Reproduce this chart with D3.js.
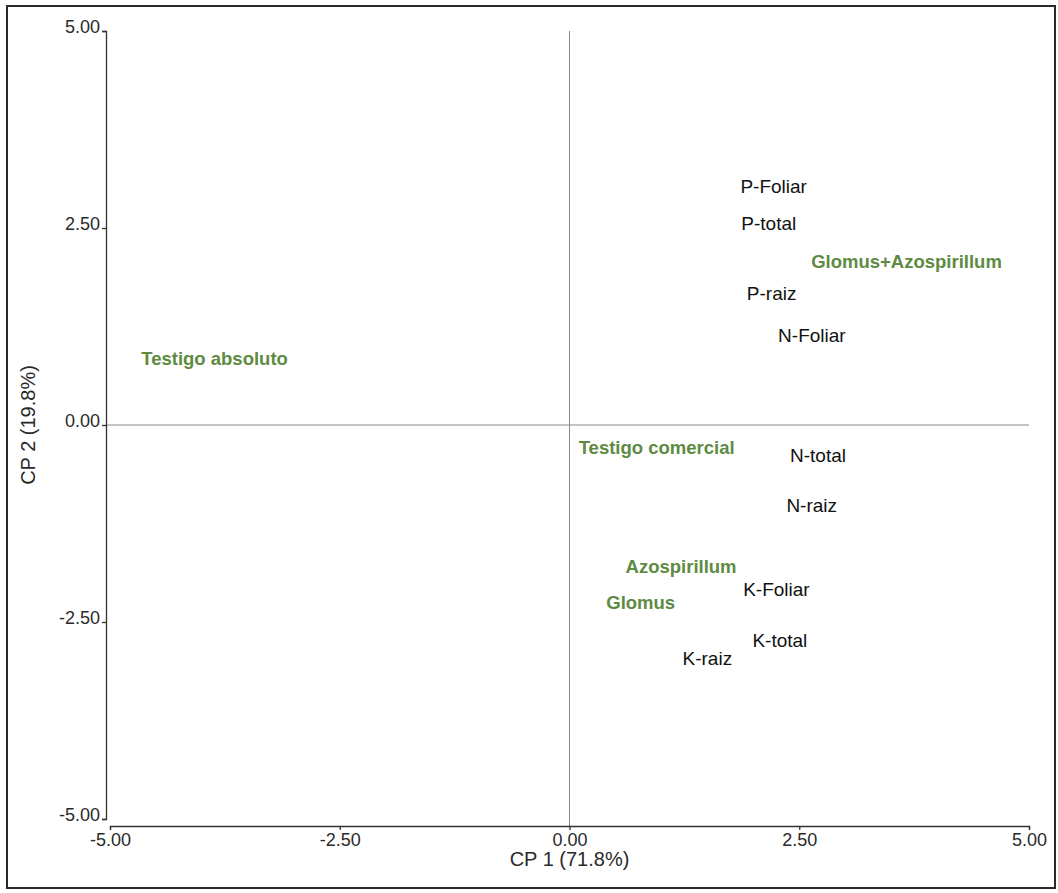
<!DOCTYPE html>
<html>
<head>
<meta charset="utf-8">
<script src="https://cdn.jsdelivr.net/npm/d3@7/dist/d3.min.js"></script>
<style>
  html, body { margin: 0; padding: 0; background: #fff; }
  svg { display: block; font-family: "Liberation Sans", Arial, Helvetica, sans-serif; }
</style>
</head>
<body>
<svg id="chart" width="1058" height="893"></svg>
<script>
// Biplot: PCA of nutrient variables and inoculation treatments
const variableNames = ["P-Foliar", "P-total", "P-raiz", "N-Foliar", "N-total", "N-raiz", "K-Foliar", "K-total", "K-raiz"];
const variableCP1   = [1.86, 1.87, 1.93, 2.27, 2.40, 2.36, 1.89, 1.99, 1.23];
const variableCP2   = [3.03, 2.56, 1.67, 1.14, -0.38, -1.02, -2.08, -2.73, -2.96];

const treatmentNames = ["Glomus+Azospirillum", "Testigo absoluto", "Testigo comercial", "Azospirillum", "Glomus"];
const treatmentCP1   = [2.63, -4.66, 0.10, 0.61, 0.40];
const treatmentCP2   = [2.07, 0.84, -0.28, -1.79, -2.25];

const tickValues = [-5, -2.5, 0, 2.5, 5];
const xTitle = "CP 1 (71.8%)";
const yTitle = "CP 2 (19.8%)";

const svg = d3.select("#chart");
const W = 1058, H = 893;

// outer frame
svg.append("rect")
  .attr("x", 7).attr("y", 6).attr("width", W - 10).attr("height", H - 11)
  .attr("fill", "#fff").attr("stroke", "#2a2a2a").attr("stroke-width", 2);

const x = d3.scaleLinear().domain([-5, 5]).range([110, 1029]);
const y = d3.scaleLinear().domain([-5, 5]).range([819, 31]);
// plain hyphen-minus for negative ticks
const fmt = d3.formatLocale({ decimal: ".", thousands: ",", grouping: [3], currency: ["", ""], minus: "-" }).format(".2f");

// zero reference lines
svg.append("line")
  .attr("x1", x(0)).attr("x2", x(0)).attr("y1", y(5)).attr("y2", 826)
  .attr("stroke", "#8a8a8a").attr("stroke-width", 1);
svg.append("line")
  .attr("x1", 106).attr("x2", x(5)).attr("y1", y(0)).attr("y2", y(0))
  .attr("stroke", "#8a8a8a").attr("stroke-width", 1);

// x axis
const xAxis = svg.append("g")
  .attr("transform", "translate(0,826)")
  .call(d3.axisBottom(x).tickValues(tickValues).tickFormat(fmt).tickSizeInner(4).tickSizeOuter(4).tickPadding(3));
// y axis
const yAxis = svg.append("g")
  .attr("transform", "translate(106,0)")
  .call(d3.axisLeft(y).tickValues(tickValues).tickFormat(fmt).tickSizeInner(4).tickSizeOuter(4).tickPadding(2));

[xAxis, yAxis].forEach(g => {
  g.selectAll("path, line").attr("stroke", "#333").attr("stroke-width", 1.3);
  g.selectAll("text")
    .attr("fill", "#2a2a2a")
    .style("font-family", "\"Liberation Sans\", Arial, sans-serif")
    .style("font-size", "18px");
});
yAxis.selectAll("text").attr("dy", "0.1em");

// axis titles
svg.append("text")
  .attr("x", x(0)).attr("y", 866)
  .attr("text-anchor", "middle")
  .attr("fill", "#2a2a2a").style("font-size", "20px")
  .text(xTitle);
svg.append("text")
  .attr("transform", `translate(35,${y(0)}) rotate(-90)`)
  .attr("text-anchor", "middle")
  .attr("fill", "#2a2a2a").style("font-size", "20px")
  .text(yTitle);

// variable labels
svg.append("g").selectAll("text")
  .data(variableNames)
  .join("text")
  .attr("x", (d, i) => x(variableCP1[i]))
  .attr("y", (d, i) => y(variableCP2[i]))
  .attr("dy", "0.35em")
  .attr("fill", "#111")
  .style("font-size", "19px")
  .text(d => d);

// treatment labels
svg.append("g").selectAll("text")
  .data(treatmentNames)
  .join("text")
  .attr("x", (d, i) => x(treatmentCP1[i]))
  .attr("y", (d, i) => y(treatmentCP2[i]))
  .attr("dy", "0.35em")
  .attr("fill", "#5e8a42")
  .style("font-size", "18.5px")
  .style("font-weight", "bold")
  .text(d => d);
</script>
</body>
</html>
